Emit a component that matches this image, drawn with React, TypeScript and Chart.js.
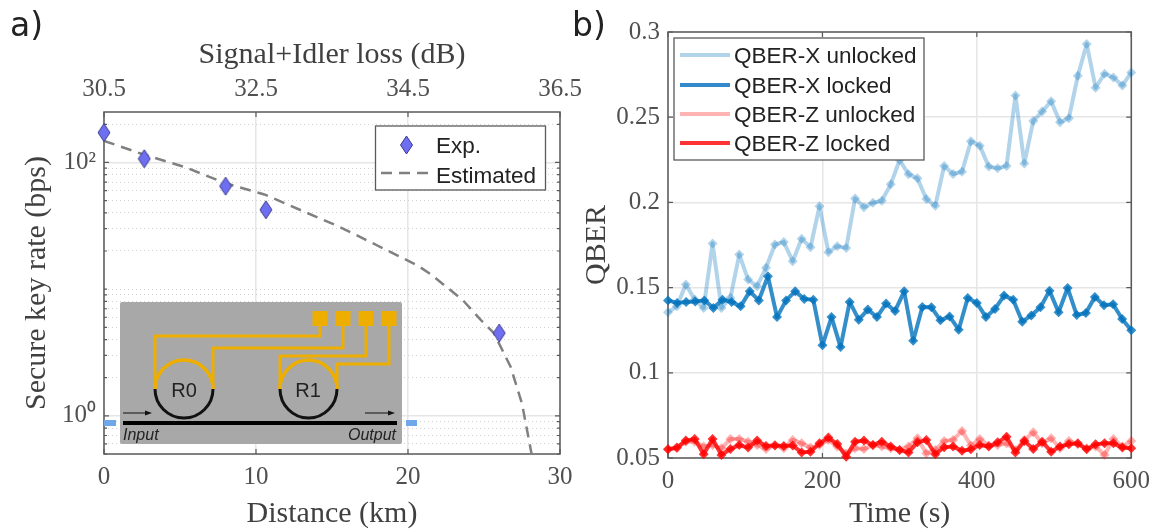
import React, { useEffect, useRef } from "react";
import { Chart, registerables } from "chart.js";

Chart.register(...registerables);

// ---- panel a) ----
const expDistance = [0, 2.65, 8, 10.65, 26];
const expRate = [172, 107, 65, 42.3, 4.5];
const estDistance = [0, 2.65, 5.3, 8, 10.55, 13, 15.5, 17.95, 20.66, 21.5, 23.6, 24.8, 25.65, 26.75, 27.5, 28.13];
const estRate = [148, 115, 92, 68.5, 55.9, 41.7, 31, 22.2, 15.3, 13.1, 8.2, 5.7, 4.5, 2.44, 1.25, 0.5];
const logTicks = [0.5, 0.6, 0.7, 0.8, 0.9, 1, 2, 3, 4, 5, 6, 7, 8, 9, 10, 20, 30, 40, 50, 60, 70, 80, 90, 100, 200];
const logLabels: Record<number, string> = { 1: "10\u2070", 100: "10\u00B2" };

// ---- panel b) ----
const times53 = [0, 11.5, 23.1, 34.6, 46.2, 57.7, 69.2, 80.8, 92.3, 103.8, 115.4, 126.9, 138.5, 150, 161.5, 173.1, 184.6, 196.2, 207.7, 219.2, 230.8, 242.3, 253.8, 265.4, 276.9, 288.5, 300, 311.5, 323.1, 334.6, 346.2, 357.7, 369.2, 380.8, 392.3, 403.8, 415.4, 426.9, 438.5, 450, 461.5, 473.1, 484.6, 496.2, 507.7, 519.2, 530.8, 542.3, 553.8, 565.4, 576.9, 588.5, 600];
const times52 = [0, 11.8, 23.5, 35.3, 47.1, 58.8, 70.6, 82.4, 94.1, 105.9, 117.6, 129.4, 141.2, 152.9, 164.7, 176.5, 188.2, 200, 211.8, 223.5, 235.3, 247.1, 258.8, 270.6, 282.4, 294.1, 305.9, 317.6, 329.4, 341.2, 352.9, 364.7, 376.5, 388.2, 400, 411.8, 423.5, 435.3, 447.1, 458.8, 470.6, 482.4, 494.1, 505.9, 517.6, 529.4, 541.2, 552.9, 564.7, 576.5, 588.2, 600];
const qberXUnlocked = [0.1355, 0.139, 0.1518, 0.143, 0.138, 0.1759, 0.138, 0.144, 0.1694, 0.1547, 0.1508, 0.1616, 0.1753, 0.1767, 0.1655, 0.1786, 0.1737, 0.1978, 0.1708, 0.1743, 0.1733, 0.2023, 0.1972, 0.1998, 0.201, 0.2106, 0.2249, 0.2165, 0.2141, 0.202, 0.198, 0.2214, 0.2167, 0.218, 0.2359, 0.2333, 0.221, 0.22, 0.2214, 0.2627, 0.2229, 0.2478, 0.2533, 0.2594, 0.2471, 0.2494, 0.2743, 0.2929, 0.2673, 0.2755, 0.2733, 0.2686, 0.2763];
const qberXLocked = [0.1425, 0.141, 0.1416, 0.1418, 0.1425, 0.138, 0.1429, 0.1416, 0.139, 0.1478, 0.1425, 0.1567, 0.1327, 0.1425, 0.1478, 0.1433, 0.1429, 0.1161, 0.1327, 0.1151, 0.1416, 0.1312, 0.1371, 0.1327, 0.1406, 0.1363, 0.1478, 0.1188, 0.1386, 0.1384, 0.1308, 0.1331, 0.1253, 0.1439, 0.141, 0.1327, 0.1375, 0.1453, 0.1429, 0.13, 0.1337, 0.1384, 0.1482, 0.1355, 0.1498, 0.1339, 0.1351, 0.1445, 0.1396, 0.1402, 0.1316, 0.1249];
const qberZUnlocked = [0.0551, 0.0557, 0.0596, 0.0596, 0.0567, 0.0576, 0.0557, 0.0612, 0.0612, 0.0596, 0.0576, 0.0553, 0.0576, 0.0557, 0.0606, 0.0586, 0.0561, 0.0576, 0.0606, 0.0567, 0.0527, 0.0557, 0.0553, 0.0576, 0.0567, 0.0557, 0.0547, 0.0567, 0.0616, 0.0527, 0.0547, 0.06, 0.0606, 0.0659, 0.0573, 0.0612, 0.0573, 0.0576, 0.0586, 0.0547, 0.0606, 0.0651, 0.0586, 0.0616, 0.0557, 0.06, 0.058, 0.0557, 0.0567, 0.0518, 0.0612, 0.0567, 0.06];
const qberZLocked = [0.0551, 0.0561, 0.0602, 0.0612, 0.0522, 0.0612, 0.0518, 0.0553, 0.0576, 0.0561, 0.0602, 0.0571, 0.0573, 0.0571, 0.0573, 0.0533, 0.0537, 0.0586, 0.062, 0.0582, 0.0508, 0.0596, 0.0602, 0.0576, 0.0596, 0.0567, 0.0547, 0.0533, 0.0592, 0.0606, 0.0522, 0.0563, 0.0567, 0.0543, 0.0551, 0.0576, 0.0567, 0.0592, 0.0625, 0.0533, 0.06, 0.0553, 0.0596, 0.0537, 0.0567, 0.058, 0.0586, 0.0551, 0.058, 0.0586, 0.0586, 0.0561, 0.0557];

const serif = "'Liberation Serif', serif";
const sans = "'Liberation Sans', sans-serif";
const TICK_COLOR = "#505050";
const TITLE_COLOR = "#404040";
const GRID = "#e6e6e6";
const FRAME = "#5a5a5a";

const zip = (xs: number[], ys: number[]) => ys.map((y, i) => ({ x: xs[i], y }));

// fixed axis thickness so that the plot area lands where the reference has it
const fixW = (w: number) => (s: any) => { s.width = w; };
const fixH = (h: number) => (s: any) => { s.height = h; };

const frame = {
  id: "frame",
  beforeDatasetsDraw(chart: any) {
    const { ctx, chartArea: a, scales } = chart;
    ctx.save();
    ctx.strokeStyle = FRAME;
    ctx.lineWidth = 1.5;
    ctx.strokeRect(a.left, a.top, a.right - a.left, a.bottom - a.top);
    ctx.lineWidth = 1.2;
    ctx.beginPath();
    for (const t of scales.x.ticks) {
      const p = scales.x.getPixelForValue(t.value);
      ctx.moveTo(p, a.top); ctx.lineTo(p, a.top + 5);
      ctx.moveTo(p, a.bottom); ctx.lineTo(p, a.bottom - 5);
    }
    for (const t of scales.y.ticks) {
      const p = scales.y.getPixelForValue(t.value);
      const len = t.label === "" ? 3 : 5;
      ctx.moveTo(a.left, p); ctx.lineTo(a.left + len, p);
      ctx.moveTo(a.right, p); ctx.lineTo(a.right - len, p);
    }
    ctx.stroke();
    ctx.restore();
  },
};

function tallDiamond() {
  const c = document.createElement("canvas");
  c.width = 14; c.height = 20;
  const g = c.getContext("2d")!;
  g.beginPath();
  g.moveTo(7, 1); g.lineTo(13, 10); g.lineTo(7, 19); g.lineTo(1, 10); g.closePath();
  g.fillStyle = "#6e6ef0";
  g.strokeStyle = "#3d3d8c";
  g.lineWidth = 1;
  g.fill(); g.stroke();
  return c;
}

function Overlay() {
  const gold = "#eeae00";
  const wire = { fill: "none", stroke: gold, strokeWidth: 3 };
  const pads = [320, 343, 366, 389];
  const legendB = [
    { label: "QBER-X unlocked", y: 55, color: "#b2d4eb" },
    { label: "QBER-X locked", y: 85, color: "#3389c9" },
    { label: "QBER-Z unlocked", y: 114, color: "#ffb3b3" },
    { label: "QBER-Z locked", y: 143, color: "#ff3333" },
  ];
  return (
    <svg width={1158} height={529} style={{ position: "absolute", left: 0, top: 0, pointerEvents: "none" }}>
      <text x={10} y={36} fontFamily="'DejaVu Sans'" fontSize={33} fill="#222">a)</text>
      <text x={572} y={36} fontFamily="'DejaVu Sans'" fontSize={33} fill="#222">b)</text>

      {/* legend a */}
      <rect x={375.5} y={126} width={170} height={64} fill="#fff" stroke={FRAME} strokeWidth={1.3} />
      <polygon points="406.5,136 412.5,145 406.5,154 400.5,145" fill="#6e6ef0" stroke="#3d3d8c" />
      <text x={436} y={153} fontFamily={sans} fontSize={22.5} fill="#222">Exp.</text>
      <line x1={381} y1={173} x2={433} y2={173} stroke="#808080" strokeWidth={2.5} strokeDasharray="11 7" />
      <text x={436} y={183} fontFamily={sans} fontSize={22.5} fill="#222">Estimated</text>

      {/* legend b */}
      <rect x={674} y={38} width={250} height={122} fill="#fff" stroke={FRAME} strokeWidth={1.3} />
      {legendB.map((l) => (
        <g key={l.label}>
          <line x1={680} y1={l.y} x2={730} y2={l.y} stroke={l.color} strokeWidth={4} />
          <text x={734} y={l.y + 8} fontFamily={sans} fontSize={22.5} fill="#222">{l.label}</text>
        </g>
      ))}

      {/* inset */}
      <rect x={120} y={302} width={282} height={142} rx={2} fill="#a8a8a8" />
      <rect x={104} y={420} width={12} height={6} fill="#6fa8e8" />
      <rect x={406} y={420} width={11} height={6} fill="#6fa8e8" />
      {pads.map((p) => <rect key={p} x={p - 7.5} y={311} width={15} height={15} fill={gold} />)}
      <path d="M320 326 V336 H155 V389" {...wire} />
      <path d="M343 326 V348 H213 V389" {...wire} />
      <path d="M366 326 V356 H280 V389" {...wire} />
      <path d="M389 326 V364 H337 V389" {...wire} />
      <path d="M155 389 A29 29 0 0 1 213 389" fill="none" stroke={gold} strokeWidth={3.5} />
      <path d="M155 389 A29 29 0 0 0 213 389" fill="none" stroke="#111" strokeWidth={3} />
      <path d="M280 389 A28.5 29 0 0 1 337 389" fill="none" stroke={gold} strokeWidth={3.5} />
      <path d="M280 389 A28.5 29 0 0 0 337 389" fill="none" stroke="#111" strokeWidth={3} />
      <line x1={123} y1={423} x2={397} y2={423} stroke="#000" strokeWidth={4} />
      <line x1={123} y1={413} x2={147} y2={413} stroke="#111" strokeWidth={1} />
      <polygon points="152,413 145,410.5 145,415.5" fill="#111" />
      <line x1={365} y1={413} x2={390} y2={413} stroke="#111" strokeWidth={1} />
      <polygon points="395,413 388,410.5 388,415.5" fill="#111" />
      <text x={184} y={397} textAnchor="middle" fontFamily={sans} fontSize={20} fill="#222">R0</text>
      <text x={308} y={397} textAnchor="middle" fontFamily={sans} fontSize={20} fill="#222">R1</text>
      <text x={123} y={440} fontFamily={sans} fontStyle="italic" fontSize={16} fill="#222">Input</text>
      <text x={396} y={440} textAnchor="end" fontFamily={sans} fontStyle="italic" fontSize={16} fill="#222">Output</text>
    </svg>
  );
}

export default function App() {
  const aRef = useRef<HTMLCanvasElement>(null);
  const bRef = useRef<HTMLCanvasElement>(null);

  useEffect(() => {
    const tickFont = { family: serif, size: 25 };
    const titleFont = { family: serif, size: 30, lineHeight: 1 };

    const a = new Chart(aRef.current!, {
      type: "scatter",
      plugins: [frame],
      data: {
        datasets: [
          {
            label: "Exp.",
            data: zip(expDistance, expRate),
            pointStyle: tallDiamond() as any,
            showLine: false,
            clip: false as any,
            order: 1,
          },
          {
            label: "Estimated",
            data: zip(estDistance, estRate),
            showLine: true,
            pointRadius: 0,
            borderColor: "#808080",
            borderWidth: 2.5,
            borderDash: [11, 7],
            order: 2,
          },
        ],
      },
      options: {
        animation: false,
        responsive: false,
        layout: { padding: { right: 40, left: 0, top: 0, bottom: 0 } },
        plugins: { legend: { display: false }, tooltip: { enabled: false } },
        scales: {
          x: {
            type: "linear",
            min: 0,
            max: 30,
            afterFit: fixH(75),
            ticks: { stepSize: 10, font: tickFont, color: TICK_COLOR, padding: 8, maxRotation: 0 },
            grid: { color: GRID, lineWidth: 1.5, drawTicks: false },
            border: { display: false },
            title: { display: true, text: "Distance (km)", font: titleFont, color: TITLE_COLOR, padding: { top: 3, bottom: 0 } },
          },
          x2: {
            type: "linear",
            position: "top",
            min: 30.5,
            max: 36.5,
            afterFit: fixH(112),
            ticks: { stepSize: 2, font: tickFont, color: TICK_COLOR, padding: 8, maxRotation: 0, callback: (v: any) => Number(v).toFixed(1) },
            grid: { display: false, drawTicks: false },
            border: { display: false },
            title: { display: true, text: "Signal+Idler loss (dB)", font: titleFont, color: TITLE_COLOR, padding: { top: 40, bottom: 0 } },
          },
          y: {
            type: "logarithmic",
            min: 0.5,
            max: 250,
            afterFit: fixW(104),
            afterBuildTicks: (s: any) => { s.ticks = logTicks.map((value) => ({ value })); },
            ticks: {
              autoSkip: false,
              font: tickFont,
              color: TICK_COLOR,
              padding: 8,
              callback: (v: any) => logLabels[Number(v)] ?? "",
            },
            grid: {
              drawTicks: false,
              color: (c: any) => (logLabels[c.tick?.value] ? GRID : "#d2d2d2"),
              lineWidth: (c: any) => (logLabels[c.tick?.value] ? 1.5 : 1),
            },
            border: {
              display: false,
              dash: (c: any) => (logLabels[c.tick?.value] ? [] : [1, 3]),
            } as any,
            title: { display: true, text: "Secure key rate (bps)", font: titleFont, color: TITLE_COLOR, padding: { top: 22, bottom: 0 } },
          },
        },
      } as any,
    });

    const marker = { pointStyle: "rectRot" as const, pointRadius: 5, pointBorderWidth: 0, borderWidth: 4, borderJoinStyle: "round" as const, clip: false as any, tension: 0 };
    const b = new Chart(bRef.current!, {
      type: "line",
      plugins: [frame],
      data: {
        datasets: [
          { label: "QBER-X unlocked", data: zip(times53, qberXUnlocked), borderColor: "rgba(0,114,189,0.3)", pointBackgroundColor: "rgba(0,114,189,0.3)", order: 4, ...marker },
          { label: "QBER-X locked", data: zip(times52, qberXLocked), borderColor: "rgba(0,114,189,0.8)", pointBackgroundColor: "rgba(0,114,189,0.8)", order: 3, ...marker },
          { label: "QBER-Z unlocked", data: zip(times53, qberZUnlocked), borderColor: "rgba(255,0,0,0.3)", pointBackgroundColor: "rgba(255,0,0,0.3)", order: 2, ...marker },
          { label: "QBER-Z locked", data: zip(times53, qberZLocked), borderColor: "rgba(255,0,0,0.8)", pointBackgroundColor: "rgba(255,0,0,0.8)", order: 1, ...marker },
        ],
      },
      options: {
        animation: false,
        responsive: false,
        layout: { padding: { right: 25, left: 0, top: 32, bottom: 0 } },
        plugins: { legend: { display: false }, tooltip: { enabled: false } },
        scales: {
          x: {
            type: "linear",
            min: 0,
            max: 600,
            afterFit: fixH(71),
            ticks: { stepSize: 200, font: tickFont, color: TICK_COLOR, padding: 8, maxRotation: 0 },
            grid: { color: GRID, lineWidth: 1.5, drawTicks: false },
            border: { display: false },
            title: { display: true, text: "Time (s)", font: titleFont, color: TITLE_COLOR, padding: { top: 0, bottom: 0 } },
          },
          y: {
            type: "linear",
            min: 0.05,
            max: 0.3,
            afterFit: fixW(88),
            ticks: { stepSize: 0.05, font: tickFont, color: TICK_COLOR, padding: 8, callback: (v: any) => String(Number(Number(v).toFixed(2))) },
            grid: { color: GRID, lineWidth: 1.5, drawTicks: false },
            border: { display: false },
            title: { display: true, text: "QBER", font: titleFont, color: TITLE_COLOR, padding: { top: 2, bottom: 0 } },
          },
        },
      } as any,
    });

    return () => { a.destroy(); b.destroy(); };
  }, []);

  return (
    <div style={{ position: "absolute", left: 0, top: 0, width: 1158, height: 529, overflow: "hidden", background: "#fff" }}>
      <canvas ref={aRef} width={600} height={529} style={{ position: "absolute", left: 0, top: 0, display: "block" }} />
      <canvas ref={bRef} width={578} height={529} style={{ position: "absolute", left: 580, top: 0, display: "block" }} />
      <Overlay />
    </div>
  );
}
